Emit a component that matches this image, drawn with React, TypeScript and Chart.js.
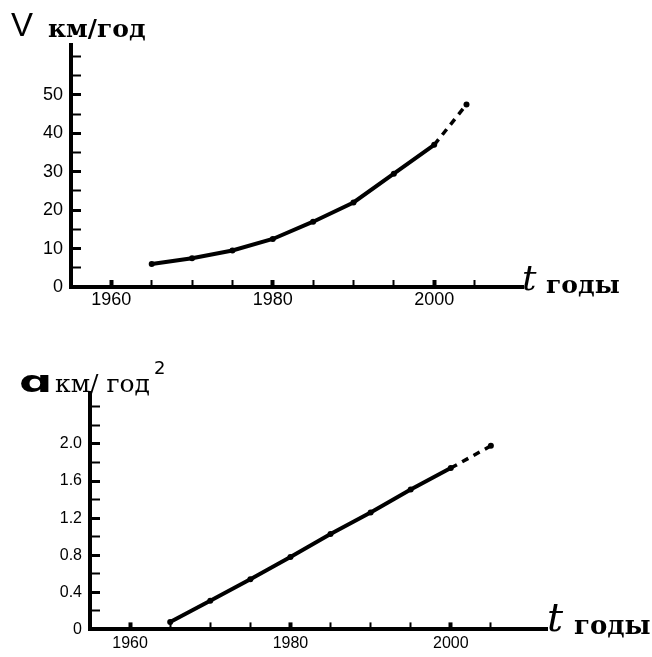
import React, { useEffect, useRef } from "react";
import { Chart, registerables } from "chart.js";

Chart.register(...registerables);

// ---- data ----
const speedYears = [1965, 1970, 1975, 1980, 1985, 1990, 1995, 2000, 2004];
const speedValues = [6, 7.5, 9.5, 12.5, 17, 22, 29.5, 37, 47.5];

const accelYears = [1965, 1970, 1975, 1980, 1985, 1990, 1995, 2000, 2005];
const accelValues = [0.08, 0.31, 0.54, 0.78, 1.03, 1.26, 1.51, 1.74, 1.98];

const yearTicks = [1960, 1965, 1970, 1975, 1980, 1985, 1990, 1995, 2000, 2005];
const yearTickLabels = ["1960", "", "", "", "1980", "", "", "", "2000", ""];

const speedTicks = [0, 5, 10, 15, 20, 25, 30, 35, 40, 45, 50, 55, 60];
const speedTickLabels = ["0", "", "10", "", "20", "", "30", "", "40", "", "50", "", ""];

const accelTicks = [0, 0.2, 0.4, 0.6, 0.8, 1.0, 1.2, 1.4, 1.6, 1.8, 2.0, 2.2, 2.4];
const accelTickLabels = ["0", "", "0.4", "", "0.8", "", "1.2", "", "1.6", "", "2.0", "", ""];

// ---- texts ----
const speedSymbol = "V";
const speedUnit = "км/год";
const accelSymbol = "ɑ";
const accelUnit = "км/ год";
const accelPow = "2";
const timeSymbol = "t";
const timeUnit = "годы";

type Cfg = {
  xs: number[];
  ys: number[];
  yTicks: number[];
  yLabels: string[];
  yMax: number;
  xMax: number;
  yWidth: number;
  xHeight: number;
  padTop: number;
  padRight: number;
  fontSize: number;
  xPad: number;
  drawTexts: (ctx: CanvasRenderingContext2D) => void;
};

function buildConfig(c: Cfg): any {
  const textPlugin = {
    id: "texts",
    afterDraw(chart: any) {
      const ctx = chart.ctx as CanvasRenderingContext2D;
      ctx.save();
      ctx.fillStyle = "#000";
      ctx.textBaseline = "alphabetic";
      ctx.textAlign = "left";
      c.drawTexts(ctx);
      ctx.restore();
    },
  };
  const lastSolid = c.xs.length - 2;
  return {
    type: "line",
    data: {
      datasets: [
        {
          data: c.xs.map((x, i) => ({ x, y: c.ys[i] })),
          borderColor: "#000",
          backgroundColor: "#000",
          borderWidth: 4,
          pointRadius: 3,
          pointBackgroundColor: "#000",
          pointBorderWidth: 0,
          tension: 0,
          segment: {
            borderDash: (ctx: any) => (ctx.p0DataIndex >= lastSolid ? [7, 6] : undefined),
            borderWidth: (ctx: any) => (ctx.p0DataIndex >= lastSolid ? 3.5 : 4),
          },
        },
      ],
    },
    options: {
      animation: false,
      responsive: false,
      events: [],
      layout: { padding: { top: c.padTop, right: c.padRight, left: 0, bottom: 0 } },
      plugins: { legend: { display: false }, tooltip: { enabled: false }, title: { display: false } },
      scales: {
        x: {
          type: "linear",
          min: 1955,
          max: c.xMax,
          afterBuildTicks: (s: any) => {
            s.ticks = yearTicks.map((v) => ({ value: v }));
          },
          afterFit: (s: any) => {
            s.height = c.xHeight;
          },
          grid: {
            drawOnChartArea: false,
            tickLength: -7,
            tickColor: "#000",
            tickWidth: (ctx: any) => (yearTickLabels[ctx.index] ? 4 : 2),
          },
          border: { color: "#000", width: 4 },
          ticks: {
            autoSkip: false,
            maxRotation: 0,
            padding: c.xPad,
            color: "#000",
            font: { family: "Liberation Sans", size: c.fontSize },
            callback: (_v: any, i: number) => yearTickLabels[i],
          },
        },
        y: {
          type: "linear",
          min: 0,
          max: c.yMax,
          afterBuildTicks: (s: any) => {
            s.ticks = c.yTicks.map((v) => ({ value: v }));
          },
          afterFit: (s: any) => {
            s.width = c.yWidth;
          },
          grid: {
            drawOnChartArea: false,
            tickLength: -10,
            tickColor: "#000",
            tickWidth: (ctx: any) => (c.yLabels[ctx.index] ? 3 : 2),
          },
          border: { color: "#000", width: 4 },
          ticks: {
            autoSkip: false,
            padding: 18,
            color: "#000",
            font: { family: "Liberation Sans", size: c.fontSize },
            callback: (_v: any, i: number) => c.yLabels[i],
          },
        },
      },
    },
    plugins: [textPlugin],
  };
}

function ChartCanvas({ cfg, width, height, top }: { cfg: Cfg; width: number; height: number; top: number }) {
  const ref = useRef<HTMLCanvasElement | null>(null);
  useEffect(() => {
    if (!ref.current) return;
    const chart = new Chart(ref.current, buildConfig(cfg));
    return () => chart.destroy();
  }, []);
  return (
    <canvas
      ref={ref}
      width={width}
      height={height}
      style={{ position: "absolute", left: 0, top, width, height, display: "block" }}
    />
  );
}

const topCfg: Cfg = {
  xs: speedYears,
  ys: speedValues,
  yTicks: speedTicks,
  yLabels: speedTickLabels,
  yMax: 63,
  xMax: 2011,
  yWidth: 71,
  xHeight: 33,
  padTop: 45,
  padRight: 129,
  fontSize: 18,
  xPad: 9,
  drawTexts: (ctx) => {
    ctx.font = '33px "Liberation Sans"';
    ctx.fillText(speedSymbol, 11, 36);
    ctx.font = 'bold 25px "DejaVu Serif"';
    ctx.fillText(speedUnit, 48, 37);
    ctx.font = 'italic 36px "DejaVu Serif"';
    ctx.fillText(timeSymbol, 522, 290);
    ctx.font = 'bold 25px "DejaVu Serif"';
    ctx.fillText(timeUnit, 546, 293);
  },
};

const bottomCfg: Cfg = {
  xs: accelYears,
  ys: accelValues,
  yTicks: accelTicks,
  yLabels: accelTickLabels,
  yMax: 2.55,
  xMax: 2012,
  yWidth: 90,
  xHeight: 24,
  padTop: 73,
  padRight: 105,
  fontSize: 16,
  xPad: 12,
  drawTexts: (ctx) => {
    ctx.save();
    ctx.translate(19, 72);
    ctx.scale(1.55, 1);
    ctx.font = 'bold 30px "DejaVu Sans"';
    ctx.fillText(accelSymbol, 0, 0);
    ctx.restore();
    ctx.font = '25px "DejaVu Serif"';
    ctx.fillText(accelUnit, 55, 72);
    ctx.font = '18px "DejaVu Sans"';
    ctx.fillText(accelPow, 154, 54);
    ctx.font = 'italic 40px "DejaVu Serif"';
    ctx.fillText(timeSymbol, 547, 311);
    ctx.font = 'bold 26px "DejaVu Serif"';
    ctx.fillText(timeUnit, 574, 314);
  },
};

export default function App() {
  return (
    <div style={{ position: "absolute", left: 0, top: 0, width: 652, height: 657, background: "#fff" }}>
      <ChartCanvas cfg={topCfg} width={652} height={320} top={0} />
      <ChartCanvas cfg={bottomCfg} width={652} height={337} top={320} />
    </div>
  );
}
